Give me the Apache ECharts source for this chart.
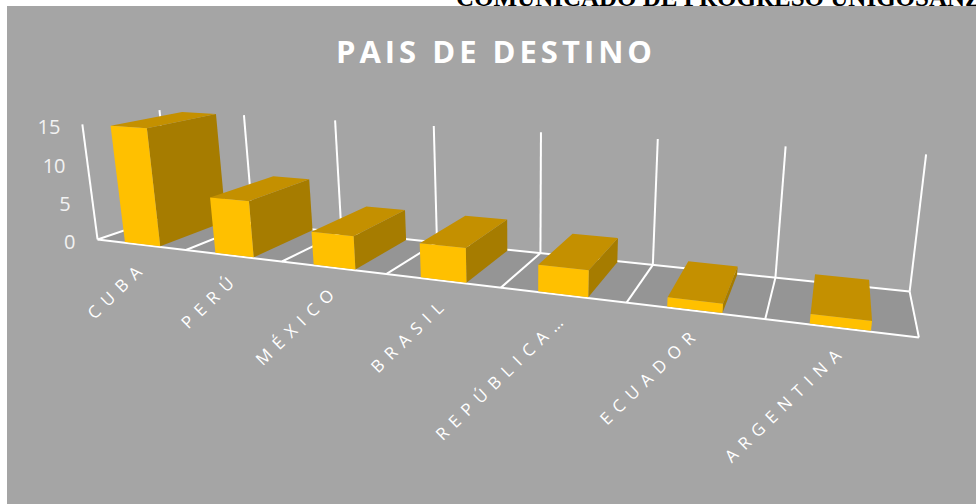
<!DOCTYPE html>
<html>
<head>
<meta charset="utf-8">
<title>Pais de destino</title>
<script src="https://cdn.jsdelivr.net/npm/echarts@6/dist/echarts.min.js"></script>
<style>
  html, body { margin: 0; padding: 0; background: #fff; }
  #chart { width: 976px; height: 504px; }
</style>
</head>
<body>
<div id="chart"></div>
<script>
var categories = ['CUBA', 'PERÚ', 'MÉXICO', 'BRASIL', 'REPÚBLICA…', 'ECUADOR', 'ARGENTINA'];
var counts = [15, 7, 4, 4, 3, 1, 1];
var valueTicks = [0, 5, 10, 15];
var titleText = 'PAIS DE DESTINO';
var headerText = 'COMUNICADO DE PROGRESO UNIGOSANZ';

var yMax = valueTicks[valueTicks.length - 1];

// camera: where corners of the plot box land on screen [band, value, depth, px, py]
var view = [
  [0, 0, 0, 96, 240], [0, 15, 0, 82, 125],
  [1, 0, 0, 187, 251], [2, 0, 0, 282, 260], [3, 0, 0, 387, 274], [4, 0, 0, 502, 287],
  [5, 0, 0, 627, 302], [6, 0, 0, 765, 319], [7, 0, 0, 918, 338],
  [4, 0, 1, 540, 253], [5, 0, 1, 653, 265], [6, 0, 1, 775, 278], [7, 0, 1, 910, 292],
  [0, 15, 1, 160, 110], [1, 15, 1, 245, 115], [2, 15, 1, 335, 120], [3, 15, 1, 433, 126],
  [4, 15, 1, 540, 132], [5, 15, 1, 657, 139], [6, 15, 1, 786, 146], [7, 15, 1, 927, 155]
];

var barHalf = 0.2, zFront = 0.02, zBack = 0.97;

// least squares fit of a 3x4 projection (DLT)
function fitView(pts) {
  var n = 11, a = [], b = [], i, j, r, c;
  for (i = 0; i < n; i++) { a.push(new Array(n).fill(0)); b.push(0); }
  function add(row, t) {
    for (i = 0; i < n; i++) {
      b[i] += row[i] * t;
      for (j = 0; j < n; j++) a[i][j] += row[i] * row[j];
    }
  }
  pts.forEach(function (p) {
    var x = p[0] / categories.length, y = p[1] / yMax, z = p[2], u = p[3] / 1000, v = p[4] / 1000;
    add([x, y, z, 1, 0, 0, 0, 0, -u * x, -u * y, -u * z], u);
    add([0, 0, 0, 0, x, y, z, 1, -v * x, -v * y, -v * z], v);
  });
  for (c = 0; c < n; c++) {
    var piv = c;
    for (r = c + 1; r < n; r++) if (Math.abs(a[r][c]) > Math.abs(a[piv][c])) piv = r;
    var tmp = a[c]; a[c] = a[piv]; a[piv] = tmp;
    tmp = b[c]; b[c] = b[piv]; b[piv] = tmp;
    for (r = c + 1; r < n; r++) {
      var f = a[r][c] / a[c][c];
      for (j = c; j < n; j++) a[r][j] -= f * a[c][j];
      b[r] -= f * b[c];
    }
  }
  var m = new Array(n).fill(0);
  for (r = n - 1; r >= 0; r--) {
    var s = b[r];
    for (j = r + 1; j < n; j++) s -= a[r][j] * m[j];
    m[r] = s / a[r][r];
  }
  return m;
}

var M = fitView(view);

function P(X, Y, Z) {
  var x = X / categories.length, y = Y / yMax, z = Z;
  var d = M[8] * x + M[9] * y + M[10] * z + 1;
  return [(M[0] * x + M[1] * y + M[2] * z + M[3]) / d * 1000,
          (M[4] * x + M[5] * y + M[6] * z + M[7]) / d * 1000];
}

// category index / value -> band units / value units, through the hidden cartesian axes
function toWorld(api, cat, val) {
  var p = api.coord([cat, val]);
  var o = api.coord([0, 0]);
  var top = api.coord([0, yMax]);
  var bw = api.size([1, 0])[0];
  return [(p[0] - o[0]) / bw + 0.5, (p[1] - o[1]) / (top[1] - o[1]) * yMax];
}

function line(p1, p2) {
  return {
    type: 'line',
    shape: { x1: p1[0], y1: p1[1], x2: p2[0], y2: p2[1] },
    style: { stroke: '#ffffff', lineWidth: 2 }
  };
}

function poly(pts, color) {
  return { type: 'polygon', shape: { points: pts }, style: { fill: color } };
}

function renderFrame(params, api) {
  var n = categories.length;
  var kids = [];
  var left = toWorld(api, 0, 0)[0] - 0.5;
  var right = toWorld(api, n, 0)[0] - 0.5;
  var h = toWorld(api, 0, yMax)[1];
  kids.push(poly([P(left, 0, 0), P(right, 0, 0), P(right, 0, 1), P(left, 0, 1)], '#959595'));
  for (var k = 0; k <= n; k++) {
    var x = toWorld(api, k, 0)[0] - 0.5;
    kids.push(line(P(x, 0, 1), P(x, h, 1)));
    kids.push(line(P(x, 0, 0), P(x, 0, 1)));
  }
  kids.push(line(P(left, 0, 0), P(right, 0, 0)));
  kids.push(line(P(left, 0, 1), P(right, 0, 1)));
  kids.push(line(P(left, 0, 0), P(left, h, 0)));
  return { type: 'group', children: kids };
}

function sideCross(q, h) {
  var a = P(q, 0, zFront), b = P(q, 0, zBack), c = P(q, h, zFront);
  var d1 = [b[0] - a[0], b[1] - a[1]], d2 = [c[0] - a[0], c[1] - a[1]];
  return d1[0] * d2[1] - d1[1] * d2[0];
}

function renderBar(params, api) {
  var w = toWorld(api, api.value(0), api.value(1));
  var a = w[0] - barHalf, b = w[0] + barHalf, y = w[1];
  var kids = [];
  if (sideCross(a, yMax) > 0) {
    kids.push(poly([P(a, 0, zFront), P(a, 0, zBack), P(a, y, zBack), P(a, y, zFront)], '#a67c00'));
  }
  if (sideCross(b, yMax) < 0) {
    kids.push(poly([P(b, 0, zFront), P(b, 0, zBack), P(b, y, zBack), P(b, y, zFront)], '#a67c00'));
  }
  kids.push(poly([P(a, y, zFront), P(b, y, zFront), P(b, y, zBack), P(a, y, zBack)], '#c49000'));
  kids.push(poly([P(a, 0, zFront), P(b, 0, zFront), P(b, y, zFront), P(a, y, zFront)], '#ffc000'));
  return { type: 'group', children: kids };
}

function renderCatLabel(params, api) {
  var w = toWorld(api, api.value(0), 0);
  var p = P(w[0], 0, 0);
  return {
    type: 'text',
    x: p[0] + 3,
    y: p[1] + 19,
    rotation: 44 * Math.PI / 180,
    style: {
      text: categories[params.dataIndex],
      fill: '#ffffff',
      font: '17px "Open Sans"',
      align: 'right', textAlign: 'right',
      verticalAlign: 'middle', textVerticalAlign: 'middle'
    }
  };
}

function renderTick(params, api) {
  var w = toWorld(api, 0, api.value(1));
  var p = P(w[0] - 0.5, w[1], 0);
  return {
    type: 'text',
    x: p[0] - 22,
    y: p[1] + 2,
    style: {
      text: String(valueTicks[params.dataIndex]),
      fill: '#f2f2f2',
      font: '20px "Open Sans"',
      align: 'right', textAlign: 'right',
      verticalAlign: 'middle', textVerticalAlign: 'middle'
    }
  };
}

var chart = echarts.init(document.getElementById('chart'), null, { renderer: 'svg' });

var option = {
  animation: false,
  backgroundColor: '#ffffff',
  title: {
    text: titleText,
    left: 496,
    top: 35,
    textAlign: 'center',
    padding: 0,
    textStyle: { color: '#ffffff', fontSize: 31, fontWeight: 'bold', fontFamily: 'Open Sans' }
  },
  graphic: [{
    type: 'text',
    x: 456,
    y: 10,
    style: {
      text: headerText,
      fill: '#000000',
      font: 'bold 25px "Liberation Serif"',
      verticalAlign: 'bottom', textVerticalAlign: 'bottom'
    }
  }, {
    type: 'rect',
    shape: { x: 7, y: 6, width: 969, height: 498 },
    style: { fill: '#a5a5a5' }
  }],
  grid: { left: 0, top: 0, width: 700, height: 150, show: false },
  xAxis: { type: 'category', data: categories, show: false },
  yAxis: { type: 'value', min: 0, max: yMax, show: false },
  series: [{
    type: 'custom', name: 'frame', z: 1, clip: false, silent: true,
    renderItem: renderFrame,
    data: [[0, 0]]
  }, {
    type: 'custom', name: 'PAIS DE DESTINO', z: 2, clip: false,
    renderItem: renderBar,
    data: counts.map(function (v, i) { return [i, v]; })
  }, {
    type: 'custom', name: 'labels', z: 3, clip: false, silent: true,
    renderItem: renderCatLabel,
    data: categories.map(function (c, i) { return [i, 0]; })
  }, {
    type: 'custom', name: 'ticks', z: 3, clip: false, silent: true,
    renderItem: renderTick,
    data: valueTicks.map(function (v) { return [0, v]; })
  }]
};

chart.setOption(option);

// Excel-style wide letter spacing on the title and category labels
function spaceLetters() {
  document.querySelectorAll('#chart text').forEach(function (t) {
    var s = t.textContent;
    if (categories.indexOf(s) >= 0) t.style.letterSpacing = '7.5px';
    else if (s === titleText) t.style.letterSpacing = '4px';
  });
}
chart.on('finished', spaceLetters);
setTimeout(spaceLetters, 100);
</script>
</body>
</html>
